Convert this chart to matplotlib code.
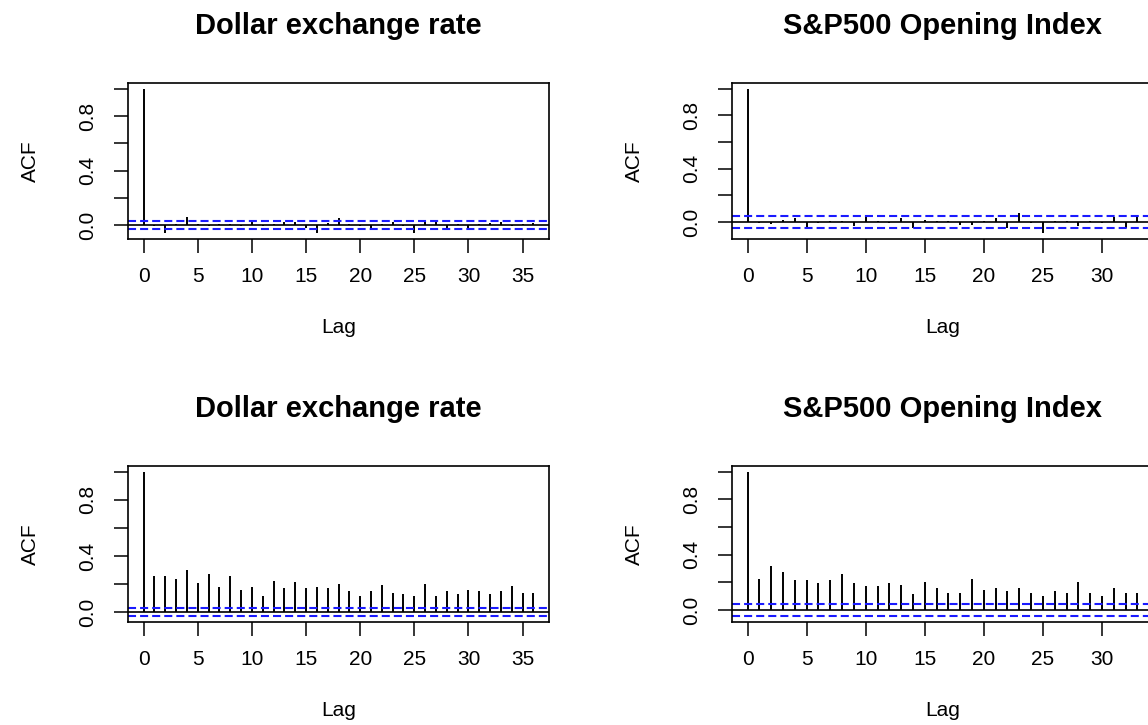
import numpy as np
import matplotlib
matplotlib.use("Agg")
import matplotlib.pyplot as plt

# ----------------------------
# Data
# ----------------------------
TITLE_DOLLAR = "Dollar exchange rate"
TITLE_SP500 = "S&P500 Opening Index"

# top row: ACF of the raw returns
dollar_acf = [
    1.0, -0.01, -0.06, 0.01, 0.06, 0.01, -0.01, 0.01, 0.005, -0.01,
    0.025, -0.005, 0.01, 0.025, 0.02, -0.02, -0.06, 0.015, 0.05, 0.005,
    -0.01, -0.02, 0.005, 0.02, -0.005, -0.055, 0.03, 0.03, -0.03, 0.005,
    -0.025, 0.01, 0.015, 0.02, -0.005, 0.005, 0.015,
]
sp500_acf = [
    1.0, -0.01, -0.015, 0.015, 0.03, -0.05, -0.01, 0.005, 0.01, -0.03,
    0.045, 0.005, -0.005, 0.03, -0.045, 0.015, 0.005, 0.01, -0.02, -0.025,
    0.01, 0.03, -0.045, 0.068, -0.005, -0.085, 0.005, 0.01, -0.03, 0.01,
    -0.01, 0.04, -0.045, 0.04,
]

# bottom row: ACF of the absolute returns
dollar_abs_acf = [
    1.0, 0.26, 0.26, 0.237, 0.303, 0.206, 0.27, 0.182, 0.26, 0.161,
    0.182, 0.116, 0.225, 0.173, 0.213, 0.173, 0.182, 0.173, 0.204, 0.149,
    0.116, 0.149, 0.192, 0.14, 0.128, 0.116, 0.204, 0.116, 0.149, 0.128,
    0.161, 0.149, 0.128, 0.149, 0.185, 0.14, 0.14,
]
sp500_abs_acf = [
    1.0, 0.226, 0.317, 0.274, 0.214, 0.214, 0.192, 0.214, 0.26, 0.192,
    0.171, 0.171, 0.192, 0.18, 0.113, 0.202, 0.159, 0.125, 0.125, 0.226,
    0.147, 0.161, 0.137, 0.161, 0.125, 0.103, 0.137, 0.125, 0.202, 0.125,
    0.103, 0.161, 0.125, 0.125,
]

dollar_ci = 0.028
sp500_ci = 0.045

X_TICKS = [0, 5, 10, 15, 20, 25, 30, 35]
Y_TICKS = [0.0, 0.2, 0.4, 0.6, 0.8, 1.0]
Y_TICK_LABELS = ["0.0", "", "0.4", "", "0.8", ""]

# ----------------------------
# Layout (pixels, origin top-left)
# ----------------------------
W, H = 1148, 725
BOX_W, BOX_H = 421, 156
COL_X = [128, 732]
ROW_Y = [83, 466]

plt.rcParams["font.family"] = ["Liberation Sans", "DejaVu Sans"]
plt.rcParams["lines.scale_dashes"] = False


def add_box(fig, x, y):
    return fig.add_axes([x / W, 1 - (y + BOX_H) / H, BOX_W / W, BOX_H / H])


def acf_panel(ax, acf, ci, title):
    acf = np.asarray(acf)
    lags = np.arange(len(acf))

    ax.vlines(lags, 0, acf, color="black", linewidth=1.4)
    ax.axhline(0, color="black", linewidth=1.2)
    for level in (ci, -ci):
        ax.axhline(level, color="#1a1aff", linewidth=1.5, linestyle=(0, (5.8, 2.9)))

    # R style 4% padding around the data range
    n = lags[-1]
    ax.set_xlim(-0.04 * n, n * 1.04)
    lo = min(acf.min(), -ci)
    hi = max(acf.max(), ci)
    pad = 0.04 * (hi - lo)
    ax.set_ylim(lo - pad, hi + pad)

    ax.set_xticks([t for t in X_TICKS if t <= n])
    ax.set_yticks(Y_TICKS)
    ax.set_yticklabels(Y_TICK_LABELS, rotation=90, va="center")
    ax.tick_params(axis="both", direction="out", length=10, width=1.1,
                   labelsize=15, colors="black")
    ax.tick_params(axis="x", pad=10)
    ax.tick_params(axis="y", pad=12)
    for sp in ax.spines.values():
        sp.set_linewidth(1.2)

    ax.set_title(title, fontsize=21, fontweight="bold", pad=35)
    ax.set_xlabel("Lag", fontsize=15, labelpad=23)
    ax.set_ylabel("ACF", fontsize=15, labelpad=28)


fig = plt.figure(figsize=(W / 100, H / 100), dpi=100)

panels = [
    (0, 0, dollar_acf, dollar_ci, TITLE_DOLLAR),
    (0, 1, sp500_acf, sp500_ci, TITLE_SP500),
    (1, 0, dollar_abs_acf, dollar_ci, TITLE_DOLLAR),
    (1, 1, sp500_abs_acf, sp500_ci, TITLE_SP500),
]
for row, col, acf, ci, title in panels:
    ax = add_box(fig, COL_X[col], ROW_Y[row])
    acf_panel(ax, acf, ci, title)

fig.savefig("out.png", dpi=100)
